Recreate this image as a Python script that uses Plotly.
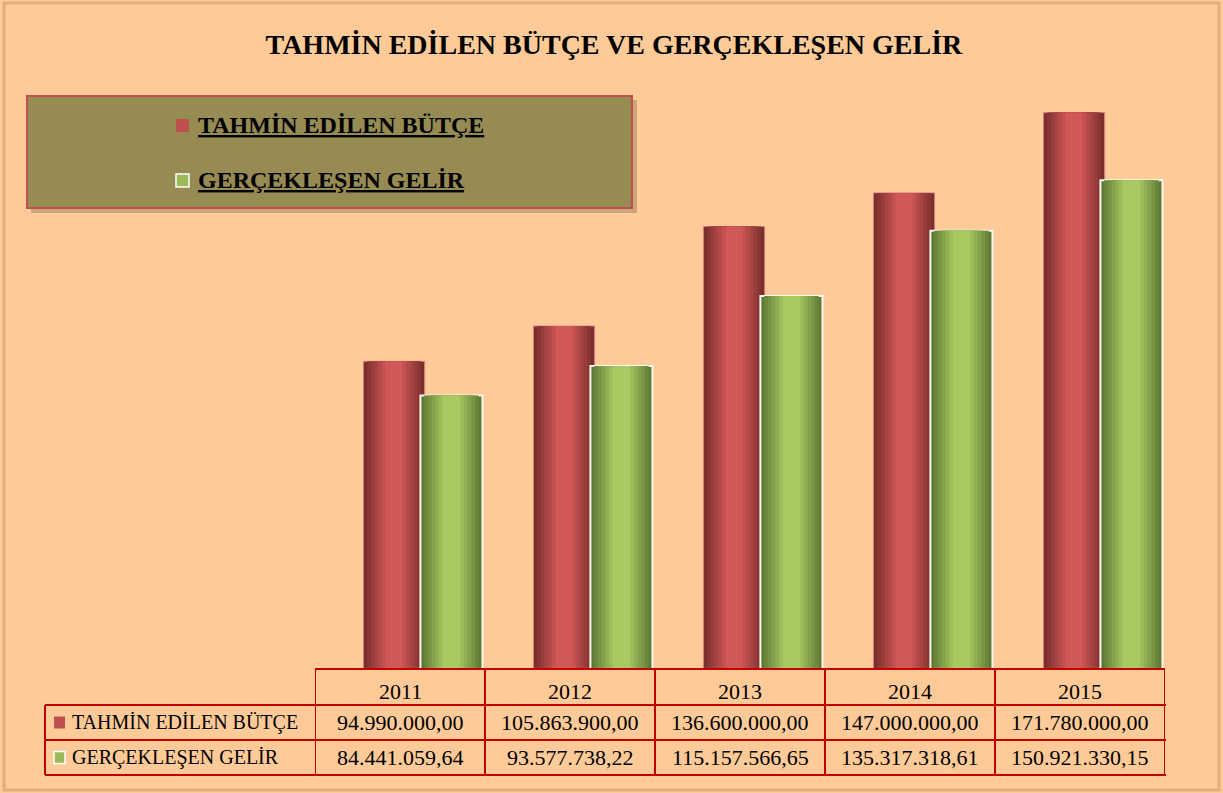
import plotly.graph_objects as go

# chart data
years = ["2011", "2012", "2013", "2014", "2015"]
series_names = ["TAHMİN EDİLEN BÜTÇE", "GERÇEKLEŞEN GELİR"]
tahmin_butce = [94990000.00, 105863900.00, 136600000.00, 147000000.00, 171780000.00]
gerceklesen_gelir = [84441059.64, 93577738.22, 115157566.65, 135317318.61, 150921330.15]
tahmin_labels = ["94.990.000,00", "105.863.900,00", "136.600.000,00", "147.000.000,00", "171.780.000,00"]
gelir_labels = ["84.441.059,64", "93.577.738,22", "115.157.566,65", "135.317.318,61", "150.921.330,15"]

W, H = 1223, 793
BG = "#FECB98"
TABLE_RED = "#C00000"
FONT = "Liberation Serif"


def px(x):
    return x / W


def py(y):
    return 1 - y / H


def shade(c1, c2, t):
    a = [int(c1[i:i + 2], 16) for i in (1, 3, 5)]
    b = [int(c2[i:i + 2], 16) for i in (1, 3, 5)]
    return "#" + "".join("%02x" % round(a[i] + (b[i] - a[i]) * t) for i in range(3))


fig = go.Figure()
xs = list(range(len(years)))

# bars: several overlaid layers give the cylinder shading
bar_specs = [
    (tahmin_butce, -0.215, 0.36, "#7A2F2D", "#D05856", "#D98280", 1),
    (gerceklesen_gelir, 0.12, 0.365, "#5E7A35", "#A9CA62", "#F8F6EE", 2),
]
steps = [1.0, 0.88, 0.76, 0.64, 0.52, 0.4, 0.28]
for vals, off, wid, edge, mid, line_col, line_w in bar_specs:
    center = off + wid / 2
    for i, f in enumerate(steps):
        w = wid * f
        fig.add_trace(go.Bar(
            x=xs, y=vals, width=[w] * len(xs), offset=[center - w / 2] * len(xs),
            marker=dict(color=shade(edge, mid, i / (len(steps) - 1)),
                        line=dict(color=line_col if i == 0 else "rgba(0,0,0,0)",
                                  width=line_w if i == 0 else 0)),
            showlegend=False, hoverinfo="y" if i == 0 else "skip",
        ))

shapes = []
annotations = []

# outer frame
shapes.append(dict(type="rect", xref="paper", yref="paper", x0=px(4), x1=px(1219), y0=py(790), y1=py(3),
                   line=dict(color="#E3AE7E", width=3), layer="below"))

# legend box with shadow
shapes.append(dict(type="rect", xref="paper", yref="paper", x0=px(31), x1=px(637), y0=py(213), y1=py(100),
                   fillcolor="rgba(120,90,60,0.35)", line=dict(width=0), layer="below"))
shapes.append(dict(type="rect", xref="paper", yref="paper", x0=px(27), x1=px(632), y0=py(208), y1=py(96),
                   fillcolor="#968B52", line=dict(color="#C0504D", width=2), layer="below"))
leg_colors = ["#C0504D", "#9BBB59"]
leg_lines = ["rgba(0,0,0,0)", "#FFFFFF"]
for i, name in enumerate(series_names):
    yc = 125 + i * 55
    shapes.append(dict(type="rect", xref="paper", yref="paper", x0=px(176), x1=px(189),
                       y0=py(yc + 7), y1=py(yc - 6), fillcolor=leg_colors[i],
                       line=dict(color=leg_lines[i], width=1.5)))
    annotations.append(dict(xref="paper", yref="paper", x=px(196), y=py(yc), xanchor="left", yanchor="middle",
                            text="<b><u>" + name + "</u></b>", showarrow=False,
                            font=dict(family=FONT, size=24, color="#000000")))

# data table under the bars
top, r1, r2, bot = 669, 705, 740, 775
lw = 2
for i in range(len(years) + 1):
    shapes.append(dict(type="line", xref="x", yref="paper", x0=i - 0.5, x1=i - 0.5, y0=py(bot), y1=py(top),
                       line=dict(color=TABLE_RED, width=lw)))
shapes.append(dict(type="line", xref="paper", yref="paper", x0=px(45), x1=px(45), y0=py(bot), y1=py(r1),
                   line=dict(color=TABLE_RED, width=lw)))
shapes.append(dict(type="line", xref="x", yref="paper", x0=-0.5, x1=len(years) - 0.5, y0=py(top), y1=py(top),
                   line=dict(color=TABLE_RED, width=lw)))
for yy in (r1, r2, bot):
    shapes.append(dict(type="line", xref="paper", yref="paper", x0=px(45), x1=px(1166), y0=py(yy), y1=py(yy),
                       line=dict(color=TABLE_RED, width=lw)))

cell_font = dict(family=FONT, size=22, color="#000000")
for i, yr in enumerate(years):
    annotations.append(dict(xref="x", yref="paper", x=i, y=py((top + r1) / 2 + 4), text=yr, showarrow=False,
                            xanchor="center", yanchor="middle", font=cell_font))
    annotations.append(dict(xref="x", yref="paper", x=i, y=py((r1 + r2) / 2), text=tahmin_labels[i],
                            showarrow=False, xanchor="center", yanchor="middle", font=cell_font))
    annotations.append(dict(xref="x", yref="paper", x=i, y=py((r2 + bot) / 2), text=gelir_labels[i],
                            showarrow=False, xanchor="center", yanchor="middle", font=cell_font))

for j, name in enumerate(series_names):
    yc = (r1 + r2) / 2 if j == 0 else (r2 + bot) / 2
    shapes.append(dict(type="rect", xref="paper", yref="paper", x0=px(54), x1=px(65),
                       y0=py(yc + 6), y1=py(yc - 6), fillcolor=leg_colors[j],
                       line=dict(color=leg_lines[j], width=1.5)))
    annotations.append(dict(xref="paper", yref="paper", x=px(70), y=py(yc), xanchor="left", yanchor="middle",
                            text=name, showarrow=False, font=dict(family=FONT, size=20, color="#000000")))

fig.update_layout(
    width=W, height=H,
    margin=dict(l=0, r=0, t=0, b=0),
    paper_bgcolor=BG, plot_bgcolor=BG,
    barmode="overlay",
    title=dict(text="<b>TAHMİN EDİLEN BÜTÇE VE GERÇEKLEŞEN GELİR</b>", x=0.502, xanchor="center",
               y=py(44), yanchor="middle", font=dict(family=FONT, size=28, color="#000000")),
    xaxis=dict(domain=[px(315), px(1165)], range=[-0.5, len(years) - 0.5], visible=False),
    yaxis=dict(domain=[py(669), py(86)], range=[0, 180000000], visible=False),
    shapes=shapes, annotations=annotations,
)

# drop the default page margin so the figure sits at the window corner
fig.write_html("out.html", config={"displayModeBar": False},
               post_script="document.body.style.margin='0';")
